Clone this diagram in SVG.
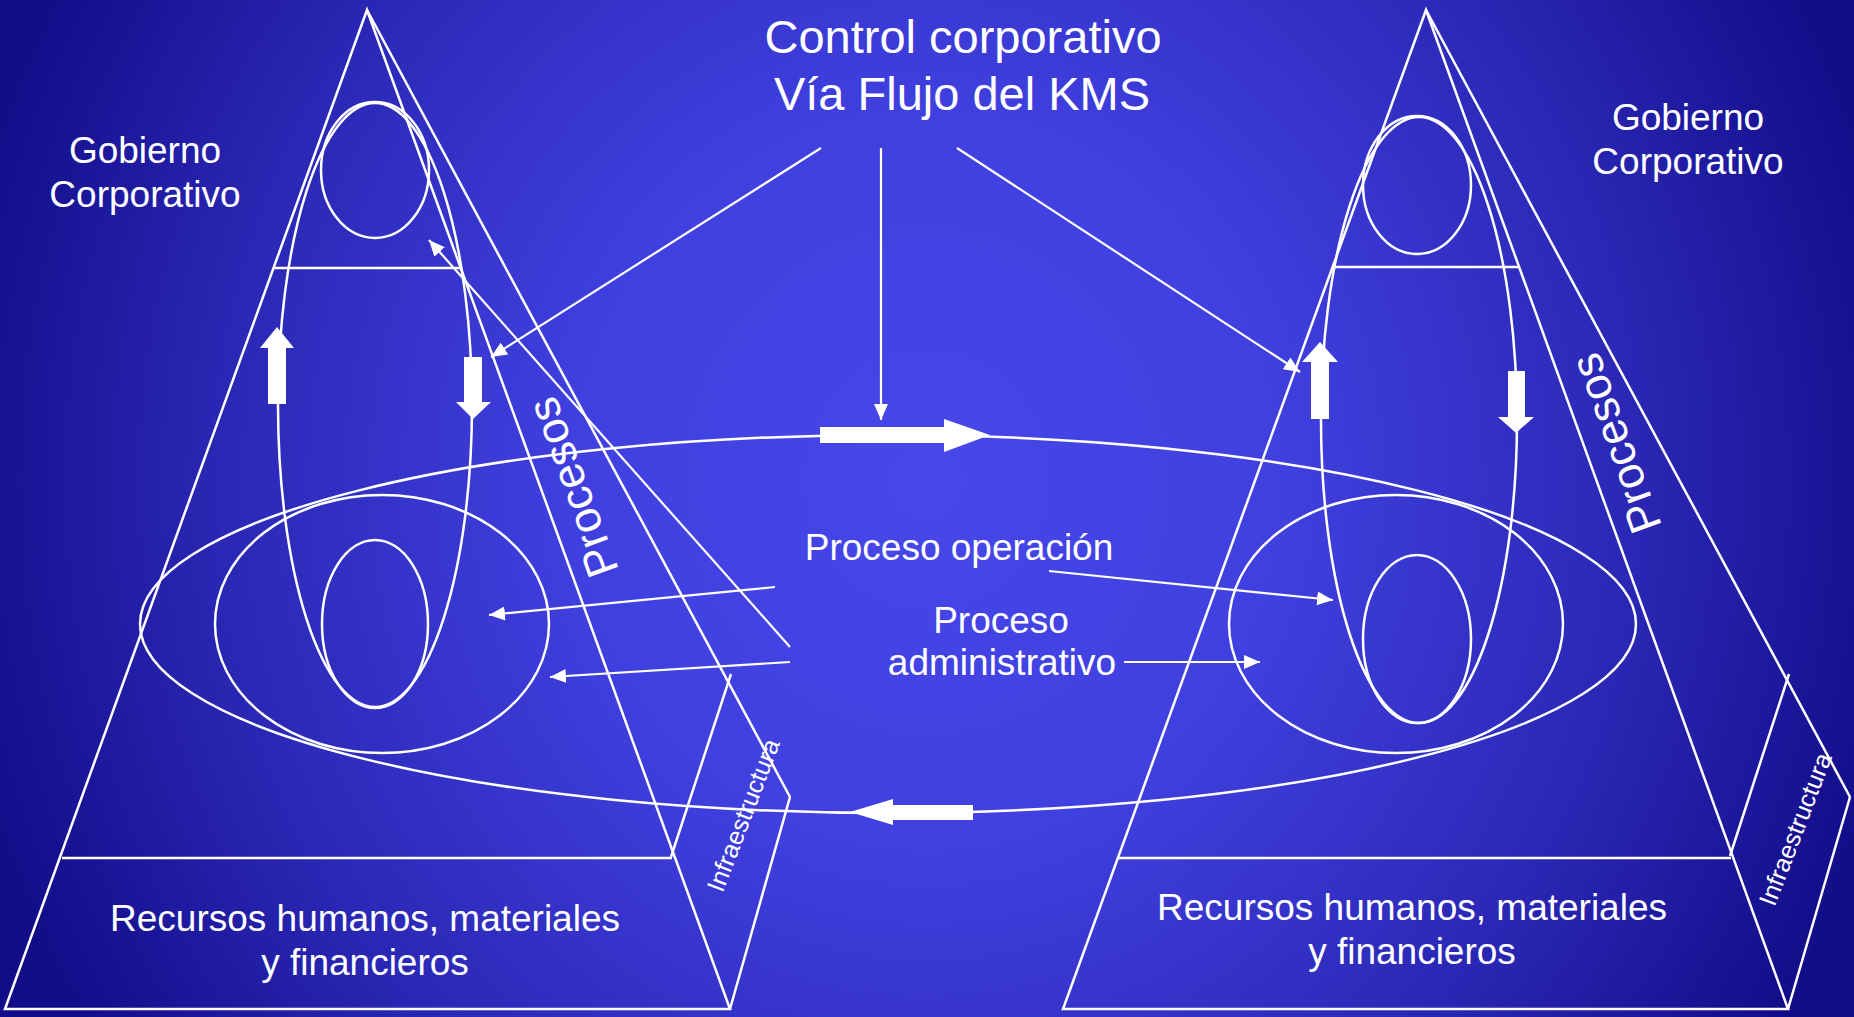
<svg xmlns="http://www.w3.org/2000/svg" width="1854" height="1017" viewBox="0 0 1854 1017">
<defs>
<radialGradient id="bg" gradientUnits="userSpaceOnUse" cx="927" cy="480" r="1000" gradientTransform="translate(927 480) scale(1 1.05) translate(-927 -480)">
<stop offset="0" stop-color="#4747ea"/>
<stop offset="0.35" stop-color="#4040e0"/>
<stop offset="0.7" stop-color="#2b28b6"/>
<stop offset="1" stop-color="#120c88"/>
</radialGradient>
<marker id="ah" viewBox="0 0 16 14" markerUnits="userSpaceOnUse" markerWidth="16" markerHeight="14" refX="16" refY="7" orient="auto">
<path d="M0,0 L16,7 L0,14 z" fill="#fff"/>
</marker>
<style>
.ln{fill:none;stroke:#fff;stroke-width:2.5}
.bk{fill:#fff;stroke:none}
.ar{fill:none;stroke:#fff;stroke-width:2.2;marker-end:url(#ah)}
.t{fill:#fff;font-family:"Liberation Sans",Arial,sans-serif;text-anchor:middle}
.m{font-size:37px}
.big{font-size:47px}
</style>
</defs>
<rect width="1854" height="1017" fill="url(#bg)"/>

<g id="pyramid-left">
<path class="ln" d="M367,10 L5,1009 L730,1009 Z"/>
<line class="ln" x1="367" y1="10" x2="790" y2="797"/>
<line class="ln" x1="62" y1="858" x2="672" y2="858"/>
<line class="ln" x1="274" y1="268" x2="460" y2="268"/>
<ellipse class="ln" cx="375" cy="170" rx="54" ry="68"/>
<ellipse class="ln" cx="375" cy="405" rx="97" ry="302"/>
<ellipse class="ln" cx="382" cy="624" rx="167" ry="129"/>
<ellipse class="ln" cx="375" cy="624" rx="53" ry="84"/>
</g>

<g id="infra-left">
<path class="ln" d="M671,857 L731,674 M790,797 L730,1009"/>
<text class="t" font-size="25" transform="translate(743 815) rotate(-69)" y="9">Infraestructura</text>
</g>

<g id="pyramid-right">
<path class="ln" d="M1426,10 L1063,1009 L1788,1009 Z"/>
<line class="ln" x1="1426" y1="10" x2="1850" y2="797"/>
<line class="ln" x1="1118" y1="858" x2="1731" y2="858"/>
<line class="ln" x1="1333" y1="267" x2="1519" y2="267"/>
<ellipse class="ln" cx="1417" cy="185" rx="54" ry="69"/>
<ellipse class="ln" cx="1419" cy="420" rx="98" ry="303"/>
<ellipse class="ln" cx="1396" cy="624" rx="167" ry="129"/>
<ellipse class="ln" cx="1417" cy="639" rx="54" ry="84"/>
</g>

<g id="infra-right">
<path class="ln" d="M1730,856 L1789,674 M1850,797 L1788,1009"/>
<text class="t" font-size="25" transform="translate(1795 829) rotate(-69)" y="9">Infraestructura</text>
</g>

<g id="flow-ellipse">
<ellipse class="ln" cx="888" cy="624" rx="748" ry="189"/>
</g>

<g id="block-arrows">
<path class="bk" d="M820,427 L944,427 L944,419 L990,435 L944,452 L944,443 L820,443 Z"/>
<path class="bk" d="M850,812 L893,799 L893,805 L973,805 L973,820 L893,820 L893,825 Z"/>
<path class="bk" d="M277,327 L294,348 L286,348 L286,404 L268,404 L268,348 L260,348 Z"/>
<path class="bk" d="M464,357 L482,357 L482,402 L491,402 L473,419 L456,402 L464,402 Z"/>
<path class="bk" d="M1320,342 L1338,362 L1329,362 L1329,419 L1311,419 L1311,362 L1302,362 Z"/>
<path class="bk" d="M1508,371 L1525,371 L1525,417 L1534,417 L1516,433 L1498,417 L1508,417 Z"/>
</g>

<g id="connectors">
<line class="ar" x1="821" y1="148" x2="491" y2="357"/>
<line class="ar" x1="881" y1="148" x2="881" y2="420"/>
<line class="ar" x1="957" y1="148" x2="1300" y2="372"/>
<line class="ar" x1="790" y1="647" x2="429" y2="240"/>
<line class="ar" x1="775" y1="587" x2="489" y2="615"/>
<line class="ar" x1="790" y1="662" x2="550" y2="677"/>
<line class="ar" x1="1049" y1="571" x2="1333" y2="600"/>
<line class="ar" x1="1124" y1="662" x2="1260" y2="662"/>
</g>

<g id="labels">
<text class="t big" x="963" y="53">Control corporativo</text>
<text class="t big" x="962" y="110">Vía Flujo del KMS</text>
<text class="t m" x="145" y="163">Gobierno</text>
<text class="t m" x="145" y="207">Corporativo</text>
<text class="t m" x="1688" y="130">Gobierno</text>
<text class="t m" x="1688" y="174">Corporativo</text>
<text class="t m" x="365" y="931">Recursos humanos, materiales</text>
<text class="t m" x="365" y="975">y financieros</text>
<text class="t m" x="1412" y="920">Recursos humanos, materiales</text>
<text class="t m" x="1412" y="964">y financieros</text>
<text class="t m" x="959" y="560">Proceso operación</text>
<text class="t m" x="1001" y="633">Proceso</text>
<text class="t m" x="1002" y="675">administrativo</text>
<text class="t" font-size="45" transform="translate(574 487) rotate(-110)" y="14">Procesos</text>
<text class="t" font-size="45" transform="translate(1617 443) rotate(-110)" y="14">Procesos</text>
</g>
</svg>
